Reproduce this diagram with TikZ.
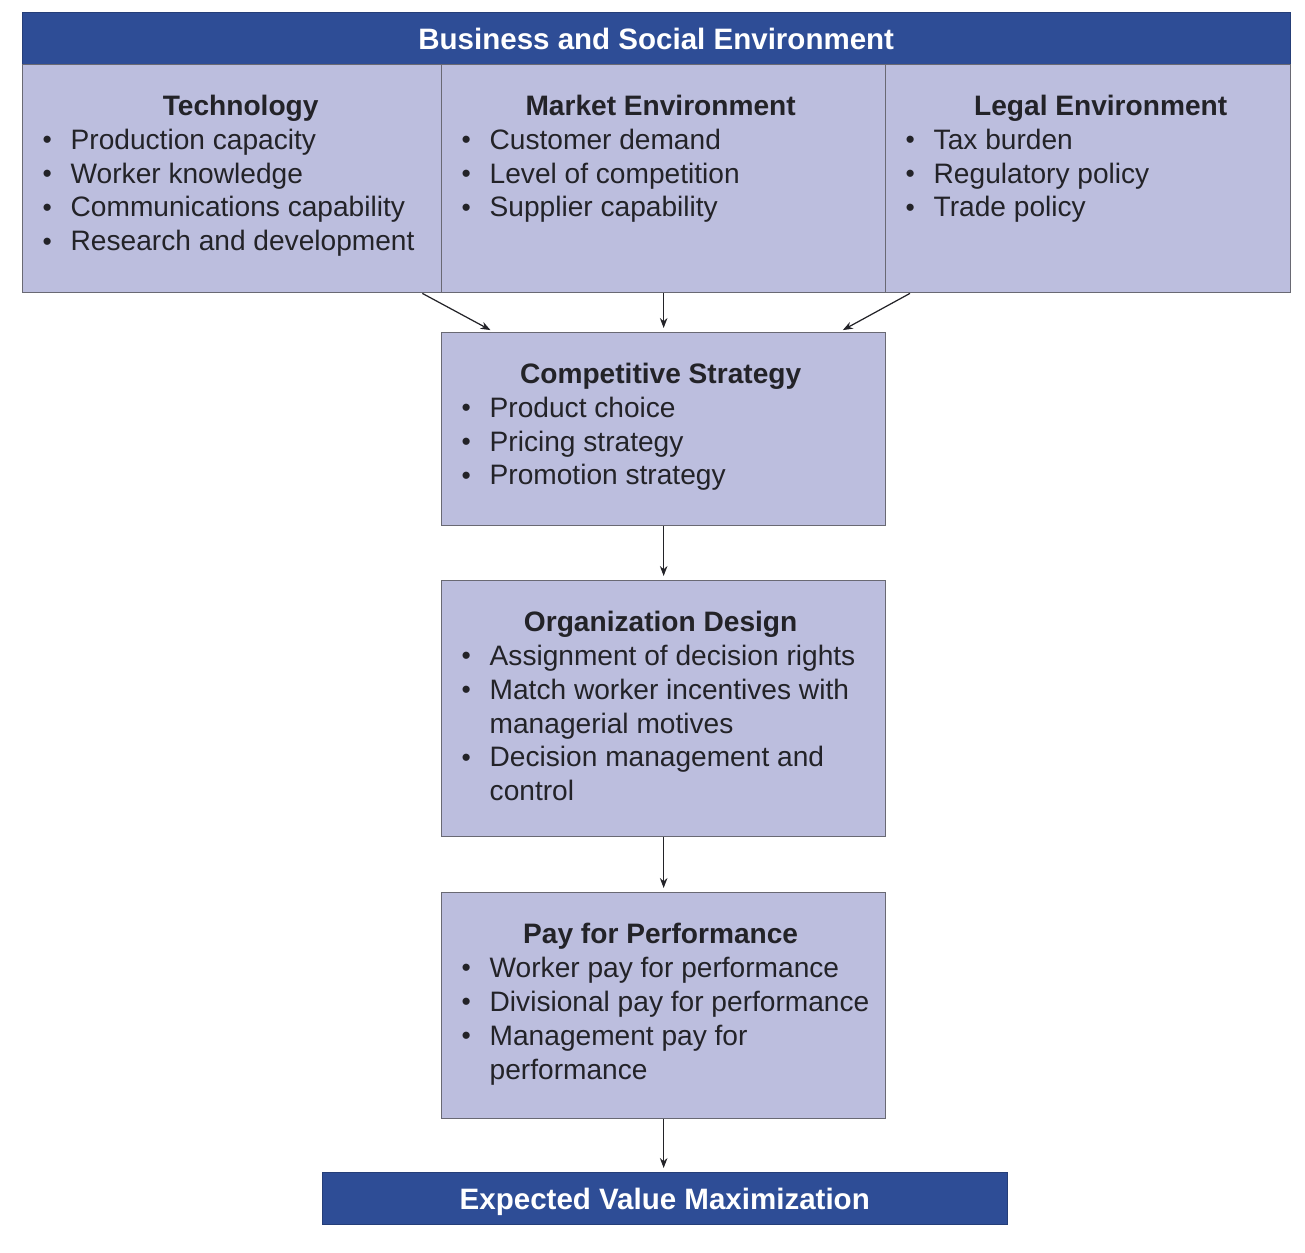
\documentclass[tikz,border=0pt]{standalone}
\usepackage{fontspec}
\setmainfont{Liberation Sans}
\usetikzlibrary{arrows.meta}
\definecolor{bannerblue}{RGB}{46,77,150}
\definecolor{boxfill}{RGB}{188,190,222}
\definecolor{boxline}{RGB}{105,105,115}
\definecolor{inktext}{RGB}{35,35,40}
\tikzset{
  banner/.style={anchor=north west, fill=bannerblue, draw=bannerblue!80!black, text=white,
    font=\fontsize{16.8}{20}\selectfont\bfseries, inner sep=0pt, text depth=0pt},
  panel/.style={anchor=north west, fill=boxfill, draw=boxline, line width=0.8pt, inner sep=0pt,
    text=inktext, font=\fontsize{16}{19.35}\selectfont},
  link/.style={draw=inktext, line width=0.7pt, -{Stealth[length=0.2cm,width=0.15cm]}, shorten >=0.08cm}
}
\def\bulletsign{\raisebox{0.02em}{\fontsize{15}{15}\selectfont\textbullet}}
\def\ptitle#1#2{{\centering\bfseries\hspace*{#1}#2\strut\par}}
\def\pitem#1{\hangindent=0.56cm\hangafter=1\noindent\makebox[0.56cm][l]{\bulletsign}#1\strut\par}
\def\pbody#1#2#3{\parbox[b][#1][t]{#2}{\leftskip=0.4cm\rightskip=0pt plus 1fil\parindent=0pt\vspace*{0.53cm}#3}}
\begin{document}
\begin{tikzpicture}[x=0.02cm,y=-0.02cm]
  %%%%% START %%%%%
  \useasboundingbox (0,0) rectangle (1305,1252);

  \node[banner, minimum width=25.36cm, minimum height=1.04cm] (env) at (22,12) {Business and Social Environment};

  \node[panel] (tech) at (22,64) {\pbody{4.56cm}{8.38cm}{%
    \ptitle{0.34cm}{Technology}
    \pitem{Production capacity}
    \pitem{Worker knowledge}
    \pitem{Communications capability}
    \pitem{Research and development}}};
  \node[panel] (market) at (441,64) {\pbody{4.56cm}{8.88cm}{%
    \ptitle{-0.12cm}{Market Environment}
    \pitem{Customer demand}
    \pitem{Level of competition}
    \pitem{Supplier capability}}};
  \node[panel] (legal) at (885,64) {\pbody{4.56cm}{8.1cm}{%
    \ptitle{0.5cm}{Legal Environment}
    \pitem{Tax burden}
    \pitem{Regulatory policy}
    \pitem{Trade policy}}};

  \node[panel] (strat) at (441,332) {\pbody{3.86cm}{8.88cm}{%
    \ptitle{-0.12cm}{Competitive Strategy}
    \pitem{Product choice}
    \pitem{Pricing strategy}
    \pitem{Promotion strategy}}};

  \node[panel] (org) at (441,580) {\pbody{5.12cm}{8.88cm}{%
    \ptitle{-0.12cm}{Organization Design}
    \pitem{Assignment of decision rights}
    \pitem{Match worker incentives with\\managerial motives}
    \pitem{Decision management and\\control}}};

  \node[panel] (pay) at (441,892) {\pbody{4.52cm}{8.88cm}{%
    \ptitle{-0.12cm}{Pay for Performance}
    \pitem{Worker pay for performance}
    \pitem{Divisional pay for performance}
    \pitem{Management pay for\\performance}}};

  \node[banner, minimum width=13.7cm, minimum height=1.04cm] (evm) at (322,1172) {Expected Value Maximization};

  \draw[link] ([xshift=-0.4cm]tech.south east) -- ([xshift=1.06cm]strat.north west);
  \draw[link] (market.south) -- (strat.north);
  \draw[link] ([xshift=0.5cm]legal.south west) -- ([xshift=-0.94cm]strat.north east);
  \draw[link] (strat.south) -- (org.north);
  \draw[link] (org.south) -- (pay.north);
  \draw[link] (pay.south) -- (pay.south |- evm.north);
  %%%%% END %%%%%
\end{tikzpicture}
\end{document}
